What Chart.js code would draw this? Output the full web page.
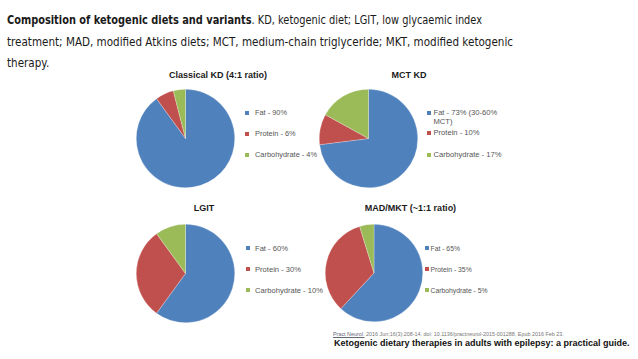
<!DOCTYPE html>
<html>
<head>
<meta charset="utf-8">
<script src="https://cdn.jsdelivr.net/npm/chart.js@4.4.1/dist/chart.umd.min.js"></script>
<style>
  html, body { margin: 0; padding: 0; background: #fff; }
  body { width: 638px; height: 359px; position: relative; overflow: hidden; }
  .hdr { position: absolute; left: 7px; white-space: nowrap; font-family: "DejaVu Sans", sans-serif; font-size: 12.8px; color: #1a1a1a; line-height: 16px; transform-origin: 0 50%; }
  .hdr b { font-weight: bold; }
  .ttl { position: absolute; white-space: nowrap; font-family: "Liberation Sans", Arial, sans-serif; font-weight: bold; font-size: 9px; color: #1a1a1a; transform: translate(-50%, -50%); }
  .lg { position: absolute; white-space: pre-line; font-family: "Liberation Sans", Arial, sans-serif; color: #555; line-height: 9px; }
  .sq { position: absolute; width: 4px; height: 4px; }
  canvas { position: absolute; }
  .cite { position: absolute; left: 333px; top: 331px; white-space: nowrap; font-family: "Liberation Sans", Arial, sans-serif; font-size: 5.4px; color: #777; }
  .cite u { color: #667; }
  .foot { position: absolute; left: 334px; top: 338px; white-space: nowrap; font-family: "Liberation Sans", Arial, sans-serif; font-weight: bold; font-size: 9px; color: #111; }
</style>
</head>
<body>
<div class="hdr" id="h1" style="top:12px"><b>Composition of ketogenic diets and variants</b>. KD, ketogenic diet; LGIT, low glycaemic index</div>
<div class="hdr" id="h2" style="top:34px">treatment; MAD, modified Atkins diets; MCT, medium-chain triglyceride; MKT, modified ketogenic</div>
<div class="hdr" id="h3" style="top:55px">therapy.</div>

<div class="cite"><u>Pract Neurol.</u> 2016 Jun;16(3):208-14. doi: 10.1136/practneurol-2015-001288. Epub 2016 Feb 23.</div>
<div class="foot">Ketogenic dietary therapies in adults with epilepsy: a practical guide.</div>

<script>
// ---- data ----
const components = ['Fat', 'Protein', 'Carbohydrate'];
const chartTitles = ['Classical KD (4:1 ratio)', 'MCT KD', 'LGIT', 'MAD/MKT (~1:1 ratio)'];
const classicalKD = [90, 6, 4];
const mctKD = [73, 10, 17];
const lgit = [60, 30, 10];
const madMkt = [65, 35, 5];
const classicalLabels = ['Fat - 90%', 'Protein - 6%', 'Carbohydrate - 4%'];
const mctLabels = ['Fat - 73% (30-60%\nMCT)', 'Protein - 10%', 'Carbohydrate - 17%'];
const lgitLabels = ['Fat - 60%', 'Protein - 30%', 'Carbohydrate - 10%'];
const madMktLabels = ['Fat - 65%', 'Protein - 35%', 'Carbohydrate - 5%'];
const sliceColors = ['#4F81BD', '#C0504D', '#9BBB59'];

// compress header lines horizontally to the reference widths
(function () {
  const h1 = document.getElementById('h1'), h2 = document.getElementById('h2'), h3 = document.getElementById('h3');
  const s1 = 475 / h1.getBoundingClientRect().width;
  const s2 = 506 / h2.getBoundingClientRect().width;
  h1.style.transform = 'scaleX(' + s1 + ')';
  h2.style.transform = 'scaleX(' + s2 + ')';
  h3.style.transform = 'scaleX(' + s2 + ')';
})();

// ---- layout ----
const panels = [
  { title: chartTitles[0], data: classicalKD, labels: classicalLabels, pie: [136, 89, 99], titlePos: [218, 75],
    legend: { sqX: 247, textX: 255, ys: [112.5, 133.5, 154.5], font: 7.4 } },
  { title: chartTitles[1], data: mctKD, labels: mctLabels, pie: [319, 89, 99], titlePos: [409, 75],
    legend: { sqX: 428.5, textX: 433.5, ys: [112.5, 132.5, 154.5], font: 7.6 } },
  { title: chartTitles[2], data: lgit, labels: lgitLabels, pie: [136, 224, 99], titlePos: [204, 207.5],
    legend: { sqX: 247.5, textX: 255, ys: [248, 269, 290], font: 7.6 } },
  { title: chartTitles[3], data: madMkt, labels: madMktLabels, pie: [325, 224, 98], titlePos: [410.5, 207.5],
    legend: { sqX: 426.5, textX: 430.5, ys: [248, 269, 290], font: 6.8 } }
];

panels.forEach((p, i) => {
  const t = document.createElement('div');
  t.className = 'ttl';
  t.textContent = p.title;
  t.style.left = p.titlePos[0] + 'px';
  t.style.top = p.titlePos[1] + 'px';
  document.body.appendChild(t);

  const cv = document.createElement('canvas');
  cv.style.left = p.pie[0] + 'px';
  cv.style.top = p.pie[1] + 'px';
  cv.style.width = p.pie[2] + 'px';
  cv.style.height = p.pie[2] + 'px';
  cv.width = p.pie[2];
  cv.height = p.pie[2];
  document.body.appendChild(cv);

  new Chart(cv, {
    type: 'pie',
    data: {
      labels: components,
      datasets: [{ data: p.data, backgroundColor: sliceColors, borderColor: 'rgba(255,255,255,0.5)', borderWidth: 0.5 }]
    },
    options: {
      responsive: false,
      animation: false,
      events: [],
      layout: { padding: 0 },
      plugins: { legend: { display: false }, title: { display: false }, tooltip: { enabled: false } }
    }
  });

  p.labels.forEach((lab, k) => {
    const sq = document.createElement('div');
    sq.className = 'sq';
    sq.style.background = sliceColors[k];
    sq.style.left = (p.legend.sqX - 2) + 'px';
    sq.style.top = (p.legend.ys[k] - 2) + 'px';
    document.body.appendChild(sq);
    const tx = document.createElement('div');
    tx.className = 'lg';
    tx.textContent = lab;
    tx.style.fontSize = p.legend.font + 'px';
    tx.style.left = p.legend.textX + 'px';
    tx.style.top = (p.legend.ys[k] - 4.5) + 'px';
    document.body.appendChild(tx);
  });
});
</script>
</body>
</html>
